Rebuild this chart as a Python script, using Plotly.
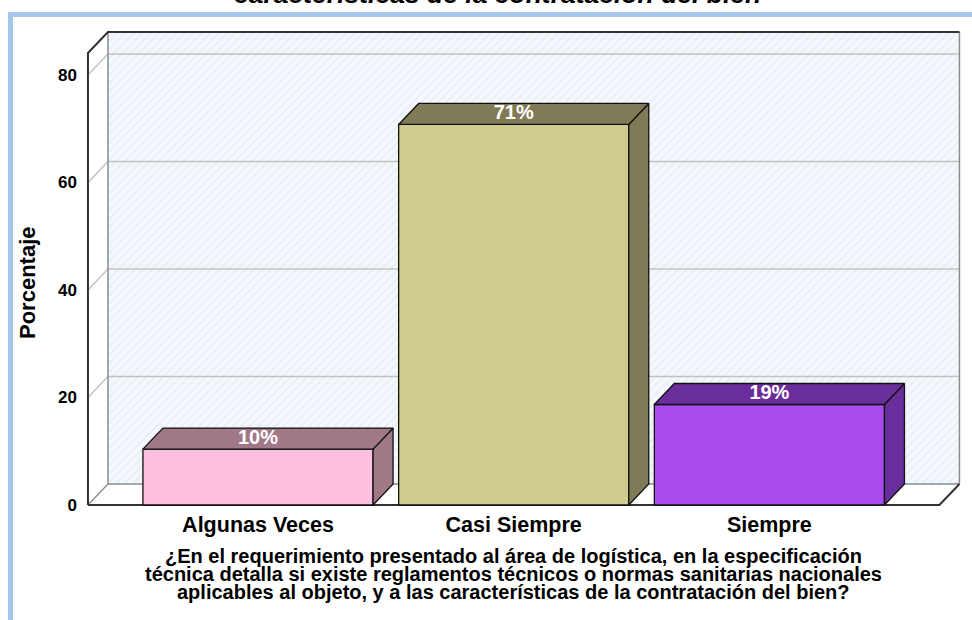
import plotly.graph_objects as go

# ---------------- data ----------------
categories = ["Algunas Veces", "Casi Siempre", "Siempre"]
values = [10.4, 70.8, 18.7]
value_labels = ["10%", "71%", "19%"]
y_ticks = [0, 20, 40, 60, 80]
y_title = "Porcentaje"
x_title_lines = [
    "¿En el requerimiento presentado al área de logística, en la especificación",
    "técnica detalla si existe reglamentos técnicos o normas sanitarias nacionales",
    "aplicables al objeto, y a las características de la contratación del bien?",
]
top_title = "características de la contratación del bien"
front_colors = ["#FFC0E0", "#D0CC90", "#A84CF0"]
shade_colors = ["#A07888", "#7F7B57", "#6A2E9C"]

# ---------------- geometry (styling) ----------------
W, H = 972, 620
PL, PR, PT, PB = 86, 964, 30, 508          # plot area in pixels
X_PX0, X_STEP = 258.0, 255.7               # pixel of category 0, px per category
Y_PX0, Y_UNIT = 505.0, 5.375               # pixel of value 0, px per unit
BAR_W = 0.9
DX = 20 / X_STEP                           # depth offset in data units
DY = 21 / Y_UNIT
FLOOR_X0, FLOOR_X1 = -0.665, 2.665
AXIS_TOP = 84.1

x_range = [(PL - X_PX0) / X_STEP, (PR - X_PX0) / X_STEP]
y_range = [(Y_PX0 - PB) / Y_UNIT, (Y_PX0 - PT) / Y_UNIT]


def pxx(px):
    return (px - PL) / (PR - PL)


def pxy(py):
    return (PB - py) / (PB - PT)


FONT = "Arial, Liberation Sans, Helvetica, sans-serif"
DARK = "#333333"
GRID = "#C4C4C4"
EDGE = "#8C8C8C"

fig = go.Figure()


def line(xs, ys, color, width):
    fig.add_trace(go.Scatter(x=xs, y=ys, mode="lines", line=dict(color=color, width=width),
                             hoverinfo="skip", showlegend=False))


# back wall with hatch
bx0, bx1 = FLOOR_X0 + DX, FLOOR_X1 + DX
btop = AXIS_TOP + DY
fig.add_trace(go.Scatter(
    x=[bx0, bx1, bx1, bx0, bx0], y=[DY, DY, btop, btop, DY],
    mode="lines", fill="toself", fillcolor="#EEF4FB",
    fillpattern=dict(shape="/", bgcolor="#F4F8FC", fgcolor="#D6E4F4", size=6, solidity=0.3),
    line=dict(width=0), hoverinfo="skip", showlegend=False))

# gridlines (side wall diagonal + back wall horizontal)
gx, gy = [], []
for v in y_ticks[1:]:
    gx += [FLOOR_X0, bx0, bx1, None]
    gy += [v, v + DY, v + DY, None]
line(gx, gy, GRID, 1.5)

# back wall / floor light edges
line([FLOOR_X0, bx0, bx1], [0, DY, DY], EDGE, 1.3)
line([bx0, bx0], [DY, btop], EDGE, 1.5)
line([bx1, bx1], [DY, btop], EDGE, 1.5)

# dark frame edges
line([FLOOR_X0, FLOOR_X0, bx0, bx1], [0, AXIS_TOP, btop, btop], DARK, 2)
line([FLOOR_X0, FLOOR_X1, bx1], [0, 0, DY], DARK, 2)

# bars
for i, (v, fc, sc) in enumerate(zip(values, front_colors, shade_colors)):
    l, r = i - BAR_W / 2, i + BAR_W / 2
    faces = [
        ([l, r, r, l, l], [0, 0, v, v, 0], fc),
        ([r, r + DX, r + DX, r, r], [0, DY, v + DY, v, 0], sc),
        ([l, r, r + DX, l + DX, l], [v, v, v + DY, v + DY, v], sc),
    ]
    for xs, ys, c in faces:
        fig.add_trace(go.Scatter(x=xs, y=ys, mode="lines", fill="toself", fillcolor=c,
                                 line=dict(color="#111111", width=1.3),
                                 hoverinfo="skip", showlegend=False))

# value labels on top faces
fig.add_trace(go.Scatter(
    x=list(range(len(values))), y=[v + DY / 2 for v in values],
    mode="text", text=value_labels, cliponaxis=False,
    textfont=dict(family=FONT, size=20, color="white", weight="bold"),
    hoverinfo="skip", showlegend=False))

annotations = []
# y title
annotations.append(dict(text=y_title, x=pxx(27), y=pxy(283), xref="paper", yref="paper",
                        showarrow=False, textangle=-90, xanchor="center", yanchor="middle",
                        font=dict(family=FONT, size=22, color="black", weight="bold")))
# x title lines
for k, t in enumerate(x_title_lines):
    annotations.append(dict(text=t, x=pxx(513), y=pxy(556 + 18 * k), xref="paper", yref="paper",
                            showarrow=False, xanchor="center", yanchor="middle",
                            font=dict(family=FONT, size=20, color="black", weight="bold")))
# clipped top title
annotations.append(dict(text=top_title, x=pxx(497), y=pxy(11), xref="paper", yref="paper",
                        showarrow=False, xanchor="center", yanchor="bottom",
                        font=dict(family=FONT, size=26.5, color="black", weight="bold",
                                  style="italic")))

fig.update_layout(
    width=W, height=H,
    margin=dict(l=PL, r=W - PR, t=PT, b=H - PB, pad=0),
    paper_bgcolor="white", plot_bgcolor="white",
    showlegend=False,
    annotations=annotations,
    shapes=[dict(type="rect", xref="paper", yref="paper",
                 x0=pxx(10.5), x1=pxx(1100), y0=pxy(900), y1=pxy(14.5),
                 line=dict(color="#A3C6EA", width=5), layer="above")],
    xaxis=dict(range=x_range, tickvals=list(range(len(categories))), ticktext=categories,
               showgrid=False, zeroline=False, showline=False, ticks="",
               ticklabelstandoff=1,
               tickfont=dict(family=FONT, size=21.5, color="black", weight="bold"),
               fixedrange=True),
    yaxis=dict(range=y_range, tickvals=y_ticks, showgrid=False, zeroline=False,
               showline=False, ticks="", ticklabelstandoff=8,
               tickfont=dict(family=FONT, size=17, color="black", weight="bold"),
               fixedrange=True),
)

fig.write_html("out.html", config={"displayModeBar": False},
               post_script="document.body.style.margin='0';document.body.style.overflow='hidden';")
